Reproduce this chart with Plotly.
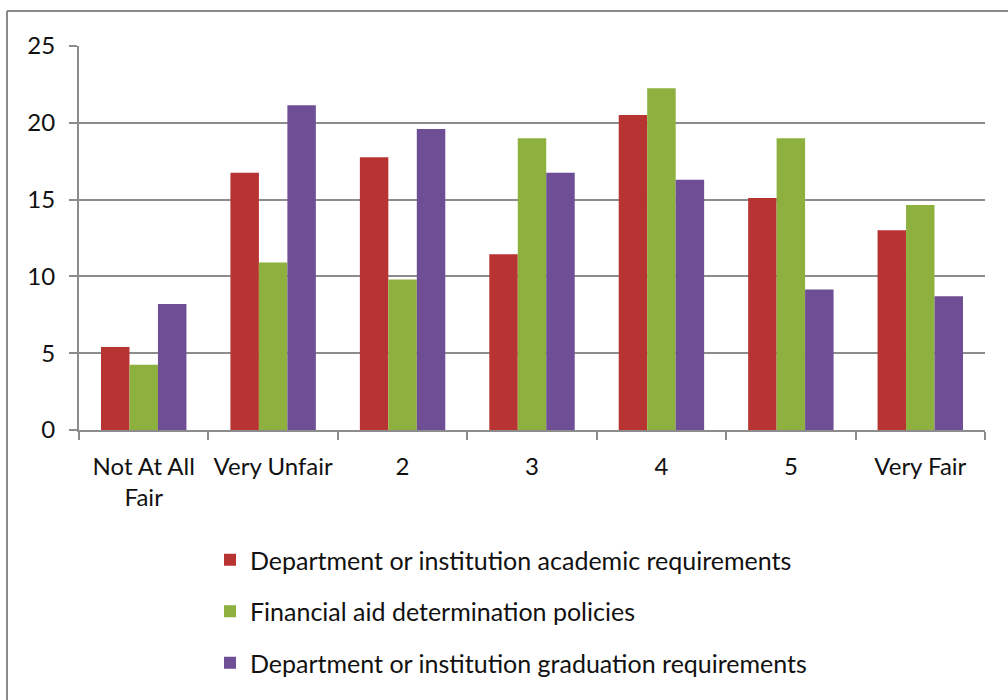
import plotly.graph_objects as go

categories = ["Not At All<br>Fair", "Very Unfair", "2", "3", "4", "5", "Very Fair"]
academic = [5.4, 16.75, 17.75, 11.45, 20.5, 15.1, 13.0]
financial = [4.25, 10.9, 9.8, 19.0, 22.25, 19.0, 14.65]
graduation = [8.2, 21.15, 19.6, 16.75, 16.3, 9.15, 8.7]
series_names = [
    "Department or institution academic requirements",
    "Financial aid determination policies",
    "Department or institution graduation requirements",
]
colors = ["#b83433", "#8db03e", "#6e4e94"]

W, H = 1008, 700
L, R, T, B = 79, 985, 46, 430
PW, PH = R - L, B - T

fig = go.Figure()
for i, (name, vals) in enumerate(zip(series_names, [academic, financial, graduation])):
    fig.add_trace(go.Bar(
        x=categories, y=vals, name=name,
        marker=dict(color=colors[i], line=dict(width=0)),
        legendgroup=f"g{i}",
    ))

FONT = "Lato"
TXT = "#111111"
FS = 24
fig.update_layout(
    width=W, height=H,
    margin=dict(l=L, r=W - R, t=T, b=H - B, pad=0, autoexpand=False),
    paper_bgcolor="white", plot_bgcolor="white",
    barmode="group", bargap=0.34, bargroupgap=0,
    font=dict(family=FONT, size=FS, color=TXT),
    showlegend=True,
    legend=dict(
        xref="paper", yref="paper",
        x=(210 - L) / PW, y=(B - 537) / PH, xanchor="left", yanchor="top",
        traceorder="grouped", tracegroupgap=16,
        font=dict(family=FONT, size=25, color=TXT),
        bgcolor="rgba(0,0,0,0)",
    ),
    xaxis=dict(
        type="category",
        showline=True, linecolor="#8c8c8c", linewidth=2,
        ticks="outside", ticklen=8, tickwidth=2, tickcolor="#8c8c8c",
        tickson="boundaries",
        showgrid=False, tickangle=0,
        tickfont=dict(family=FONT, size=FS, color=TXT),
        ticklabelstandoff=14,
    ),
    yaxis=dict(
        range=[0, 25], dtick=5,
        showline=True, linecolor="#8c8c8c", linewidth=2,
        ticks="outside", ticklen=8, tickwidth=2, tickcolor="#8c8c8c",
        showgrid=True, gridcolor="#8c8c8c", gridwidth=2,
        zeroline=False,
        tickfont=dict(family=FONT, size=FS, color=TXT),
        ticklabelstandoff=9,
    ),
    shapes=[
        dict(type="line", xref="paper", yref="paper",
             x0=(7 - L) / PW, x1=(7 - L) / PW,
             y0=(B - 11) / PH, y1=(B - 720) / PH,
             line=dict(color="#8a8a8a", width=2)),
        dict(type="line", xref="paper", yref="paper",
             x0=(7 - L) / PW, x1=(1020 - L) / PW,
             y0=(B - 11) / PH, y1=(B - 11) / PH,
             line=dict(color="#8a8a8a", width=2)),
    ],
)

fig.write_html("out.html")
